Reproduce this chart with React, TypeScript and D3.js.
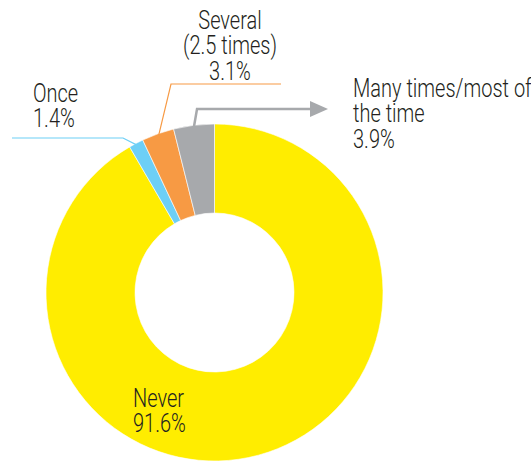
import React from 'react';
import * as d3 from 'd3';

// slices, clockwise from 12 o'clock
const categories = ['Never', 'Once', 'Several', 'Many'];
const shares = [91.6, 1.4, 3.1, 3.9];
const colors = ['#ffed00', '#6dcff6', '#f79a44', '#a7a9ac'];

// label text lines per slice
const labelLines: string[][] = [
  ['Never', '91.6%'],
  ['Once', '1.4%'],
  ['Several', '(2.5 times)', '3.1%'],
  ['Many times/most of', 'the time', '3.9%'],
];

const W = 531;
const H = 461;
const cx = 214.5;
const cy = 292.5;
const outerR = 168.5;
const innerR = 79.5;
const fontSize = 26.5;
const squeeze = 0.755;
const lineGap = 25.5;
const textColor = '#231f20';

type Pt = [number, number];

const App: React.FC = () => {
  const pie = d3.pie<number>().sort(null).value(d => d).startAngle(0).endAngle(2 * Math.PI);
  const arcs = pie(shares);
  const arc = d3.arc<d3.PieArcDatum<number>>().innerRadius(innerR).outerRadius(outerR);

  // point on the outer rim at the middle of a slice
  const rimPoint = (i: number, r = outerR): Pt => {
    const a = (arcs[i].startAngle + arcs[i].endAngle) / 2;
    return [cx + r * Math.sin(a), cy - r * Math.cos(a)];
  };

  const onceEnd = rimPoint(1, outerR - 2);
  const severalEnd = rimPoint(2, outerR - 2);
  const manyEnd = rimPoint(3, outerR - 1);

  const line = d3.line();

  const onceLeader: Pt[] = [[12, 138], [123, 138], onceEnd];
  const severalLeader: Pt[] = [[281, 84], [171, 84], severalEnd];
  const manyLeader: Pt[] = [manyEnd, [manyEnd[0] + 3, 109], [314, 109]];

  const textBlock = (lines: string[], x: number, y: number, anchor: string) => (
    <g transform={`translate(${x},${y}) scale(${squeeze},1)`}>
      {lines.map((t, k) => (
        <text key={k} x={0} y={k * lineGap} textAnchor={anchor} fontSize={fontSize} fontWeight={300}
          fontFamily="Roboto, 'Liberation Sans', Arial, sans-serif" fill={textColor}>{t}</text>
      ))}
    </g>
  );

  return (
    <svg width={W} height={H} style={{ position: 'absolute', left: 0, top: 0 }}>
      <g transform={`translate(${cx},${cy})`}>
        {arcs.map((d, i) => (
          <path key={categories[i]} d={arc(d) || ''} fill={colors[i]} stroke="#ffffff" strokeWidth={0.6} />
        ))}
      </g>

      <path d={line(onceLeader) || ''} fill="none" stroke={colors[1]} strokeWidth={1.2} />
      <path d={line(severalLeader) || ''} fill="none" stroke={colors[2]} strokeWidth={1.2} />
      <path d={line(manyLeader) || ''} fill="none" stroke={colors[3]} strokeWidth={2.5} />
      <path d="M 310 101 L 328 109 L 310 117 Z" fill={colors[3]} />

      {textBlock(labelLines[1], 33, 102, 'start')}
      {textBlock(labelLines[2], 230, 29, 'middle')}
      {textBlock(labelLines[3], 353, 97, 'start')}
      {textBlock(labelLines[0], 133, 407, 'start')}
    </svg>
  );
};

export default App;
